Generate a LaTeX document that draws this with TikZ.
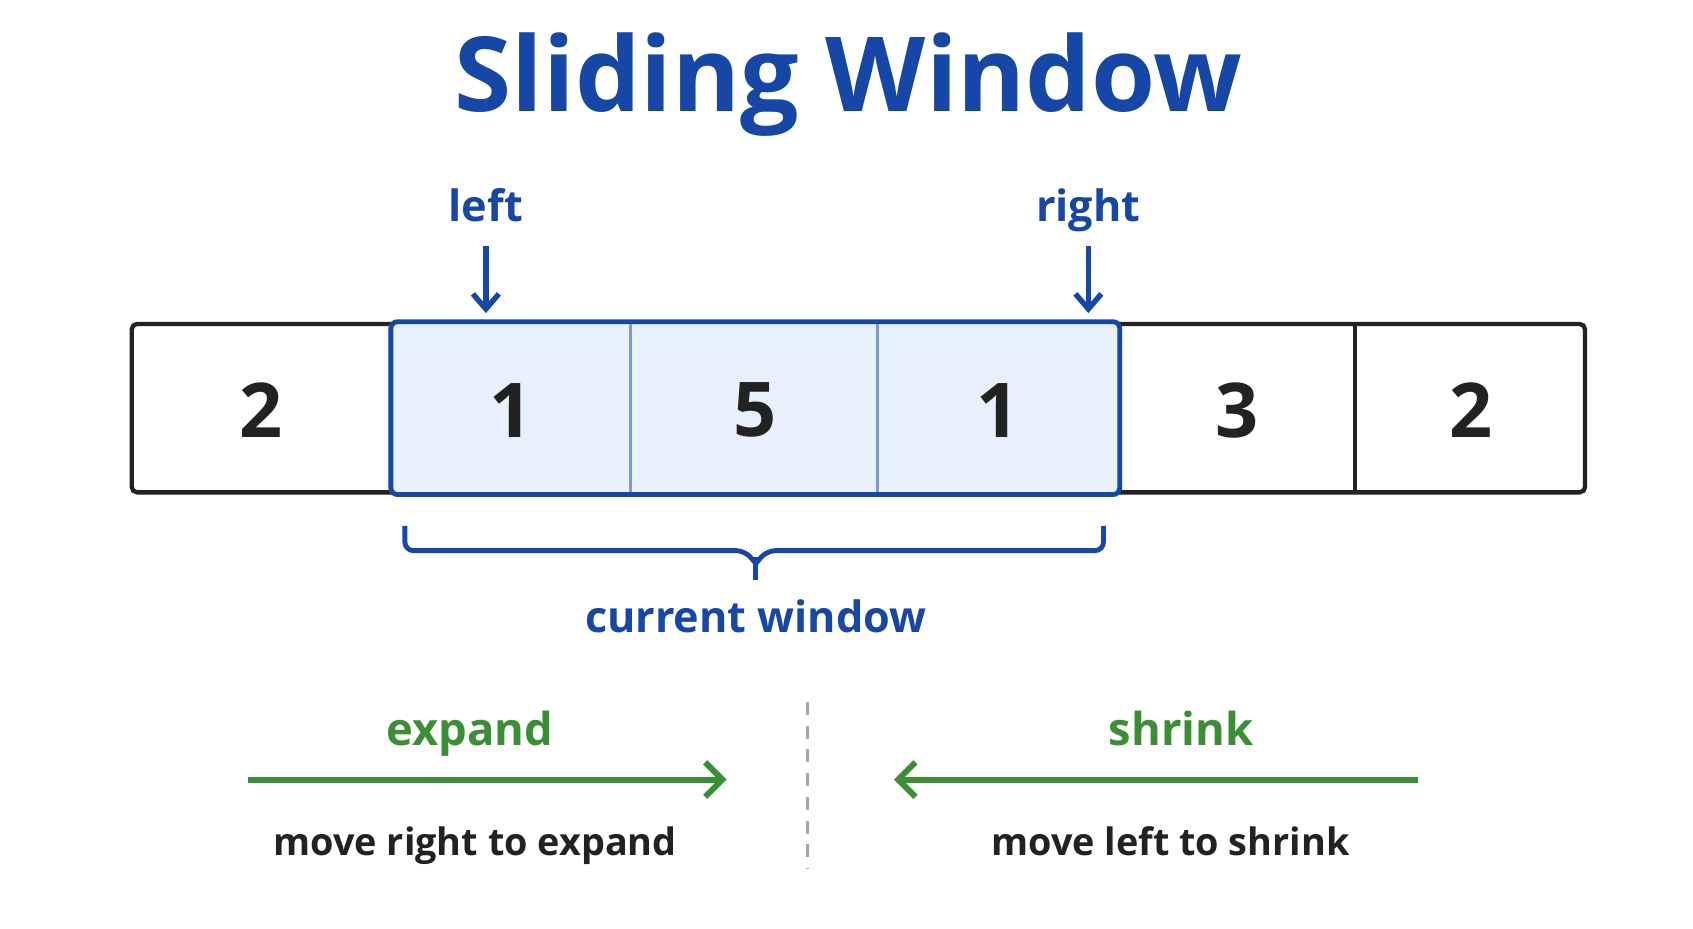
\documentclass[tikz,border=0pt]{standalone}
\usepackage{fontspec}
\setmainfont{Open Sans}
\usetikzlibrary{arrows.meta}
\definecolor{blu}{HTML}{1646A6}
\definecolor{wfill}{HTML}{E8F0FC}
\definecolor{grn}{HTML}{3A8F35}
\definecolor{txt}{HTML}{222222}
\begin{document}
\begin{tikzpicture}[x=1pt,y=-1pt,
  cell/.style={draw=txt,line width=4pt,fill=white},
  num/.style={font=\fontsize{70}{70}\selectfont\bfseries,text=txt},
  lbl/.style={font=\fontsize{40}{40}\selectfont\bfseries,text=blu,anchor=base},
  glbl/.style={font=\fontsize{42}{42}\selectfont\bfseries,text=grn,anchor=base},
  sub/.style={font=\fontsize{35}{35}\selectfont\bfseries,text=txt,anchor=base},
  parr/.style={blu,line width=5pt,-{Straight Barb[length=14pt,width=24pt]}},
  garr/.style={grn,line width=5.5pt,-{Straight Barb[length=16pt,width=32pt]}}]
\useasboundingbox[fill=white] (0,0) rectangle (1568,860);
\node[font=\fontsize{96}{96}\selectfont\bfseries,text=blu] (title) at (786,78) {Sliding Window};
\draw[cell,rounded corners=5pt] (122,300) rectangle (1468,456);
\draw[txt,line width=4pt] (1255,300) -- (1255,456);
\draw[blu,line width=4.5pt,fill=wfill,rounded corners=6pt] (362,298) rectangle (1037,458);
\draw[blu!55,line width=2.5pt] (584,300) -- (584,456) (813,300) -- (813,456);
\node[num] (c0) at (242,380) {2};
\node[num] (c1) at (473,380) {1};
\node[num] (c2) at (699,380) {5};
\node[num] (c3) at (924,380) {1};
\node[num] (c4) at (1146,380) {3};
\node[num] (c5) at (1362,380) {2};
\node[lbl] (lft) at (450,205) {left};
\node[lbl] (rgt) at (1008,205) {right};
\coordinate (lt) at (450,228); \coordinate (lh) at (450,290);
\coordinate (rt) at (1008,228); \coordinate (rh) at (1008,290);
\draw[parr] (lt) -- (lh);
\draw[parr] (rt) -- (rh);
\draw[blu,line width=4.5pt,rounded corners=8pt] (375,487) -- (375,510) -- (690,510) -- (700,522);
\draw[blu,line width=4.5pt,rounded corners=8pt] (1022,487) -- (1022,510) -- (710,510) -- (700,522);
\draw[blu,line width=4.5pt] (700,516) -- (700,537);
\node[lbl] (cw) at (700,586) {current window};
\draw[gray!70,line width=3pt,dash pattern=on 12pt off 10pt] (748,650) -- (748,805);
\node[glbl] (ex) at (435,690) {expand};
\node[glbl] (sh) at (1094,690) {shrink};
\coordinate (ea) at (230,722); \coordinate (eb) at (673,722);
\coordinate (sa) at (1313,722); \coordinate (sb) at (828,722);
\draw[garr] (ea) -- (eb);
\draw[garr] (sa) -- (sb);
\node[sub] (m1) at (440,792) {move right to expand};
\node[sub] (m2) at (1084,792) {move left to shrink};
\end{tikzpicture}
\end{document}
